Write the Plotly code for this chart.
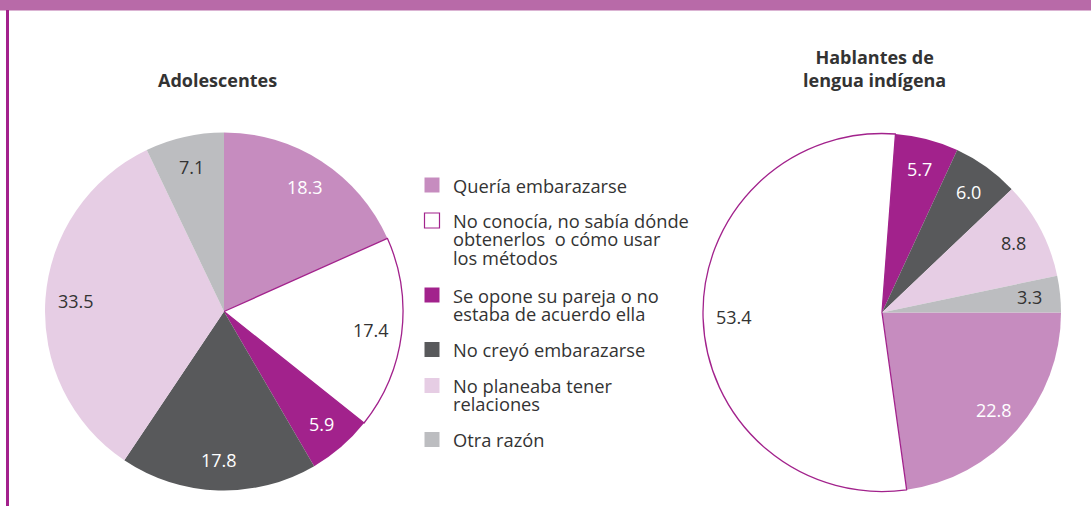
import math
import plotly.graph_objects as go

# ---------------- data ----------------
categories = [
    "Quería embarazarse",
    "No conocía, no sabía dónde obtenerlos  o cómo usar los métodos",
    "Se opone su pareja o no estaba de acuerdo ella",
    "No creyó embarazarse",
    "No planeaba tener relaciones",
    "Otra razón",
]
legend_lines = [
    ["Quería embarazarse"],
    ["No conocía, no sabía dónde", "obtenerlos  o cómo usar", "los métodos"],
    ["Se opone su pareja o no", "estaba de acuerdo ella"],
    ["No creyó embarazarse"],
    ["No planeaba tener", "relaciones"],
    ["Otra razón"],
]
adolescentes = [18.3, 17.4, 5.9, 17.8, 33.5, 7.1]
indigena = [22.8, 53.4, 5.7, 6.0, 8.8, 3.3]
titles = ["Adolescentes", "Hablantes de<br>lengua indígena"]

# ---------------- style ----------------
W, H = 1091, 506
PURPLE = "#a2228c"
colors = ["#c68cbf", "#ffffff", "#a2228c", "#58595b", "#e6cde4", "#bcbdc0"]
line_colors = ["rgba(0,0,0,0)", PURPLE, "rgba(0,0,0,0)", "rgba(0,0,0,0)", "rgba(0,0,0,0)", "rgba(0,0,0,0)"]
line_widths = [0, 1.3, 0, 0, 0, 0]
text_colors = ["#ffffff", "#333333", "#ffffff", "#ffffff", "#333333", "#333333"]
FONT = "Open Sans"
TXT = "#333333"

R = 179
pies = [
    dict(values=adolescentes, cx=224, cy=311.5, rotation=0, title=titles[0], tx=217, ty=80),
    dict(values=indigena, cx=882, cy=312.5, rotation=90, title=titles[1], tx=874, ty=68),
]


def px(x):
    return x / W


def py(y):
    return 1 - y / H


fig = go.Figure()
annotations = []
shapes = []

for p in pies:
    fig.add_trace(go.Pie(
        values=p["values"], labels=categories, sort=False, direction="clockwise",
        rotation=p["rotation"], textinfo="none", hoverinfo="label+value",
        marker=dict(colors=colors, line=dict(color=line_colors, width=line_widths)),
        domain=dict(x=[px(p["cx"] - R), px(p["cx"] + R)], y=[py(p["cy"] + R), py(p["cy"] - R)]),
        showlegend=False,
    ))
    total = sum(p["values"])
    cum = 0
    for v, tc in zip(p["values"], text_colors):
        f = (cum + v / 2) / total
        cum += v
        th = math.radians(p["rotation"] + 360 * f)
        r = 0.83 * R
        x = p["cx"] + r * math.sin(th)
        y = p["cy"] - r * math.cos(th)
        annotations.append(dict(
            x=px(x), y=py(y), xref="paper", yref="paper", text=f"{v:.1f}",
            showarrow=False, xanchor="center", yanchor="middle",
            font=dict(family=FONT, size=18, color=tc),
        ))
    annotations.append(dict(
        x=px(p["tx"]), y=py(p["ty"]), xref="paper", yref="paper",
        text="<b>" + p["title"] + "</b>", showarrow=False,
        xanchor="center", yanchor="middle", align="center",
        font=dict(family=FONT, size=18, color=TXT),
    ))

# ---------------- custom legend ----------------
sq_centers = [185, 220.5, 295, 349.5, 385.5, 439.5]
LEG_SIZE = 18.3
LINE_SIZE = 14.1  # sets line spacing (1.3 x size) to match the tight leading
for lines, c, yc in zip(legend_lines, colors, sq_centers):
    shapes.append(dict(
        type="rect", xref="paper", yref="paper",
        x0=px(424.5), x1=px(439.5), y0=py(yc + 7.5), y1=py(yc - 7.5),
        fillcolor=c, line=dict(color=PURPLE if c == "#ffffff" else c, width=1.2 if c == "#ffffff" else 0),
    ))
    n = len(lines)
    text = "<br>".join(f'<span style="font-size:{LEG_SIZE}px">{t}</span>' for t in lines)
    yc_mid = yc + (n - 1) * LINE_SIZE * 1.3 / 2
    annotations.append(dict(
        x=px(451), y=py(yc_mid), xref="paper", yref="paper", text=text,
        showarrow=False, xanchor="left", yanchor="middle", align="left",
        font=dict(family=FONT, size=LINE_SIZE, color=TXT),
    ))

# frame decorations
shapes.append(dict(type="rect", xref="paper", yref="paper", x0=0, x1=1, y0=py(10.5), y1=1,
                   fillcolor="#b86aa8", line=dict(width=0), layer="above"))
shapes.append(dict(type="rect", xref="paper", yref="paper", x0=px(6), x1=px(9), y0=0, y1=py(10),
                   fillcolor="#a3208c", line=dict(width=0)))

fig.update_layout(
    width=W, height=H, margin=dict(l=0, r=0, t=0, b=0),
    paper_bgcolor="white", plot_bgcolor="white",
    annotations=annotations, shapes=shapes, showlegend=False,
    font=dict(family=FONT, color=TXT),
)

fig.write_html("out.html", config={"displayModeBar": False},
               post_script="document.body.style.margin='0';")
